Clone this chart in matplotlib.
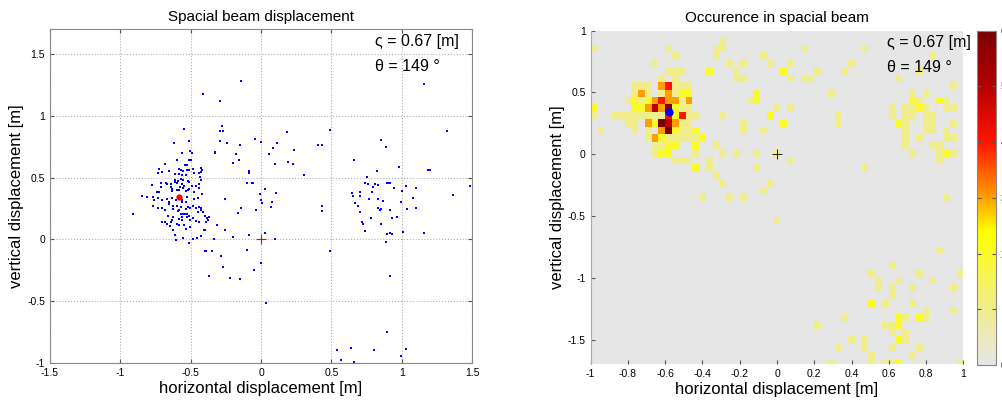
import numpy as np
import matplotlib
matplotlib.use("Agg")
import matplotlib.pyplot as plt
from matplotlib.colors import LinearSegmentedColormap

plt.rcParams['font.family'] = ['Liberation Sans', 'DejaVu Sans']

# beam hit positions [m] (left panel)
px = [-0.14, -0.41, -0.29, 1.16, 1.32,
      -0.28, -0.29, -0.27, -0.55, -0.29, -0.24, -0.51, -0.62,
      -0.33, -0.33, -0.18, -0.15, -0.16, -0.20,
      -0.04, 0.0, 0.056, 0.082, 0.115, 0.186, 0.096, 0.193, 0.229, 0.231, 0.406, 0.437, 0.489, 0.304,
      -0.084, -0.084, -0.103, -0.067, -0.06, 0.025, -0.008, -0.003, 0.009, 0.11, 0.077, 0.07, -0.037,
      -0.14, -0.162, -0.257, -0.254, -0.314, -0.202, -0.333, 0.025, 0.098, -0.082,
      -0.399, -0.39, -0.347, -0.285, -0.269, -0.221, -0.15, -0.373, -0.1, -0.053, 0.001, 0.032, 0.489,
      0.43, 0.43,
      0.664, 0.754, 0.738, 0.761, 0.809, 0.828, 0.797, 0.648, 0.655, 0.707, 0.702, 0.79, 0.768, 0.669,
      0.688, 0.705, 0.719, 0.724, 0.742, 0.78, 0.828, 0.835, 0.851, 0.844, 0.87, 0.854, 0.856, 0.885,
      0.823, 0.892, 0.909, 0.918, 0.979, 0.944, 0.92, 0.93, 0.967, 0.897, 0.92, 0.93, 0.887, 0.998,
      1.005, 1.03, 1.039, 1.01, 1.081, 1.1, 1.105, 1.19, 1.2, 1.157, 1.368, 1.484, 0.915, 0.892,
      0.541, 0.572, 0.643, 0.664, 0.802, 0.993, 1.029,
      -0.913, -0.849, -0.811,
      -0.505, -0.494, -0.565, -0.51, -0.498, -0.683, -0.595, -0.541, -0.524, -0.586, -0.57, -0.555,
      -0.529, -0.51, -0.484, -0.479, -0.534, -0.728, -0.702, -0.733, -0.655, -0.614, -0.441, -0.434,
      -0.43, -0.584, -0.565, -0.612, -0.614, -0.588, -0.598, -0.57, -0.553, -0.522, -0.51, -0.674,
      -0.64, -0.711, -0.778, -0.742, -0.723, -0.709, -0.666, -0.638, -0.631, -0.633, -0.598, -0.584,
      -0.577, -0.558, -0.546, -0.536, -0.522, -0.51, -0.489, -0.479, -0.461, -0.565, -0.771, -0.731,
      -0.702, -0.764, -0.766, -0.731, -0.666, -0.655, -0.636, -0.605, -0.626, -0.565, -0.56, -0.534,
      -0.524, -0.475, -0.451, -0.487, -0.461, -0.707, -0.681, -0.652, -0.624, -0.6, -0.584, -0.593,
      -0.57, -0.553, -0.541, -0.524, -0.534, -0.519, -0.567, -0.503, -0.441, -0.43, -0.411, -0.399,
      -0.387, -0.375, -0.629, -0.631, -0.643, -0.662, -0.529, -0.515, -0.482, -0.562, -0.56, -0.586,
      -0.451, -0.506, -0.595, -0.584, -0.648, -0.548, -0.506, -0.536,
      -0.702, -0.685, -0.671, -0.624, -0.612, -0.558, -0.603, -0.513, -0.486, -0.458, -0.425, -0.408,
      -0.399, -0.394, -0.382, -0.37, -0.425, -0.46, -0.442, -0.43, -0.42, -0.43, -0.423, -0.44, -0.44]
py = [1.28, 1.18, 1.12, 1.26, 0.88,
      0.92, 0.88, 0.88, 0.89, 0.80, 0.78, 0.80, 0.78,
      0.70, 0.71, 0.69, 0.76, 0.645, 0.62,
      0.81, 0.785, 0.694, 0.737, 0.777, 0.866, 0.613, 0.626, 0.613, 0.726, 0.761, 0.764, 0.882, 0.518,
      0.55, 0.535, 0.459, 0.456, 0.454, 0.41, 0.37, 0.316, 0.295, 0.373, 0.305, 0.26, 0.241,
      0.257, 0.214, 0.33, 0.073, 0.117, 0.016, 0.0, 0.051, 0.003, 0.035,
      -0.091, -0.091, -0.091, -0.132, -0.226, -0.312, -0.323, -0.293, -0.083, -0.245, -0.191, -0.517, -0.097,
      0.268, 0.23,
      0.64, 0.505, 0.459, 0.451, 0.451, 0.44, 0.424, 0.375, 0.348, 0.383, 0.348, 0.383, 0.324, 0.292,
      0.273, 0.219, 0.138, 0.127, 0.068, 0.173, 0.327, 0.254, 0.249, 0.238, 0.308, 0.122, 0.802, 0.748,
      0.551, 0.456, 0.459, 0.456, 0.586, 0.419, 0.24, 0.176, 0.181, 0.04, 0.051, 0.04, -0.024, 0.303,
      0.392, 0.429, 0.245, 0.06, 0.337, 0.419, 0.257, 0.559, 0.559, 0.049, 0.359, 0.429, -0.299, -0.749,
      -0.892, -0.973, -0.876, -0.995, -0.897, -0.946, -0.884,
      0.208, 0.348, 0.343,
      0.715, 0.698, 0.698, 0.645, 0.642, 0.612, 0.639, 0.604, 0.599, 0.566, 0.564, 0.55,
      0.564, 0.564, 0.566, 0.537, 0.523, 0.566, 0.545, 0.537, 0.553, 0.531, 0.54, 0.504,
      0.477, 0.526, 0.518, 0.477, 0.466, 0.472, 0.456, 0.491, 0.477, 0.469, 0.466, 0.456,
      0.448, 0.456, 0.44, 0.386, 0.386, 0.424, 0.445, 0.424, 0.407, 0.391, 0.396, 0.402,
      0.424, 0.418, 0.434, 0.391, 0.396, 0.407, 0.429, 0.38, 0.434, 0.445, 0.343, 0.337,
      0.321, 0.316, 0.272, 0.251, 0.326, 0.302, 0.337, 0.321, 0.272, 0.321, 0.305, 0.305,
      0.343, 0.326, 0.332, 0.272, 0.256, 0.251, 0.24, 0.283, 0.245, 0.267, 0.235, 0.229,
      0.208, 0.208, 0.208, 0.208, 0.245, 0.261, 0.261, 0.251, 0.261, 0.24, 0.218, 0.186,
      0.175, 0.154, 0.181, 0.154, 0.138, 0.191, 0.181, 0.186, 0.175, 0.181, 0.154, 0.167,
      0.221, 0.154, 0.127, 0.113, 0.111, 0.113, 0.1, 0.086,
      0.143, 0.143, 0.124, 0.073, 0.038, 0.011, -0.003, -0.032, 0.0, 0.008, 0.027, 0.078,
      0.076, 0.14, 0.175, 0.178, 0.257, 0.146, 0.138, 0.575, 0.559, 0.545, 0.37, 0.418, 0.45]

# mean beam position
mean_x, mean_y = -0.58, 0.34

# occurrence histogram: cell centres [m] and counts (right panel)
hx = [-0.291,
      -0.982, -0.582, -0.327, -0.291, 0.145, 0.473,
      -0.545, -0.327, -0.073, 0.836,
      -0.655, -0.255, -0.182, -0.036, 0.073, 0.400,
      -0.582, -0.545, -0.509, -0.364, -0.218, 0.036, 0.218, 0.364, 0.764,
      -0.618, -0.545, -0.218, -0.182, 0.073, 0.145, 0.182, 0.655,
      -0.764, -0.727, -0.691, -0.618, -0.582, -0.545, -0.509, -0.473, 0.945,
      -0.764, -0.727, -0.691, -0.618, -0.582, -0.545, -0.509, -0.473, -0.109, 0.291, 0.727, 0.800,
      -0.800, -0.764, -0.727, -0.691, -0.655, -0.618, -0.582, -0.545, -0.509, -0.473, -0.145, -0.109,
      0.727, 0.764, 0.873, 0.909,
      -0.982, -0.764, -0.727, -0.691, -0.655, -0.618, -0.582, -0.545, -0.509, -0.473, 0.000, 0.073,
      0.618, 0.691, 0.727, 0.764, 0.800, 0.909, 0.945,
      -0.982, -0.873, -0.836, -0.800, -0.764, -0.727, -0.691, -0.655, -0.618, -0.582, -0.545, -0.509,
      -0.473, -0.436, -0.291, -0.036, 0.327, 0.618, 0.691, 0.727, 0.800, 0.836,
      -0.800, -0.764, -0.691, -0.655, -0.618, -0.582, -0.545, -0.509, -0.473, -0.182, 0.036, 0.327,
      0.655, 0.691, 0.800, 0.836, 0.945,
      -0.945, -0.764, -0.691, -0.618, -0.582, -0.545, -0.509, -0.473, -0.436, -0.182, -0.073, 0.691,
      0.800, 0.836, 0.909,
      -0.691, -0.655, -0.618, -0.582, -0.545, -0.509, -0.473, -0.436, -0.400, 0.691, 0.764, 0.909, 0.945,
      -0.655, -0.618, -0.582, -0.545, -0.436, -0.327, 0.691, 0.836, 0.873,
      -0.655, -0.618, -0.582, -0.436, -0.291, -0.218, -0.109, 0.000, 0.727, 0.873, 0.909, 0.945,
      -0.545, -0.509, -0.473, -0.364, 0.073, 0.873,
      -0.436, -0.364, -0.109, 0.473,
      -0.327,
      -0.291, -0.036,
      -0.073,
      -0.400, -0.255, -0.182, 0.909,
      0.000,
      0.873,
      0.618,
      0.509, 0.764, 0.982,
      0.545, 0.655, 0.836,
      0.545, 0.618, 0.727, 0.945,
      0.618,
      0.509, 0.582, 0.727,
      0.800, 0.945,
      0.364, 0.655, 0.691, 0.764, 0.800,
      0.218, 0.582, 0.618, 0.655,
      0.618, 0.691,
      0.400, 0.473, 0.655, 0.691,
      0.327, 0.473, 0.618, 0.764,
      0.509, 0.727,
      0.291, 0.509, 0.582, 0.618, 0.655, 0.982]
hy = [0.917,
      0.857, 0.857, 0.857, 0.857, 0.857, 0.857,
      0.796, 0.796, 0.796, 0.796,
      0.735, 0.735, 0.735, 0.735, 0.735, 0.735,
      0.675, 0.675, 0.675, 0.675, 0.675, 0.675, 0.675, 0.675, 0.675,
      0.614, 0.614, 0.614, 0.614, 0.614, 0.614, 0.614, 0.614,
      0.554, 0.554, 0.554, 0.554, 0.554, 0.554, 0.554, 0.554, 0.554,
      0.493, 0.493, 0.493, 0.493, 0.493, 0.493, 0.493, 0.493, 0.493, 0.493, 0.493, 0.493,
      0.433, 0.433, 0.433, 0.433, 0.433, 0.433, 0.433, 0.433, 0.433, 0.433, 0.433, 0.433,
      0.433, 0.433, 0.433, 0.433,
      0.372, 0.372, 0.372, 0.372, 0.372, 0.372, 0.372, 0.372, 0.372, 0.372, 0.372, 0.372,
      0.372, 0.372, 0.372, 0.372, 0.372, 0.372, 0.372,
      0.312, 0.312, 0.312, 0.312, 0.312, 0.312, 0.312, 0.312, 0.312, 0.312, 0.312, 0.312,
      0.312, 0.312, 0.312, 0.312, 0.312, 0.312, 0.312, 0.312, 0.312, 0.312,
      0.251, 0.251, 0.251, 0.251, 0.251, 0.251, 0.251, 0.251, 0.251, 0.251, 0.251, 0.251,
      0.251, 0.251, 0.251, 0.251, 0.251,
      0.190, 0.190, 0.190, 0.190, 0.190, 0.190, 0.190, 0.190, 0.190, 0.190, 0.190, 0.190,
      0.190, 0.190, 0.190,
      0.130, 0.130, 0.130, 0.130, 0.130, 0.130, 0.130, 0.130, 0.130, 0.130, 0.130, 0.130, 0.130,
      0.069, 0.069, 0.069, 0.069, 0.069, 0.069, 0.069, 0.069, 0.069,
      0.009, 0.009, 0.009, 0.009, 0.009, 0.009, 0.009, 0.009, 0.009, 0.009, 0.009, 0.009,
      -0.052, -0.052, -0.052, -0.052, -0.052, -0.052,
      -0.113, -0.113, -0.113, -0.113,
      -0.173,
      -0.234, -0.234,
      -0.294,
      -0.355, -0.355, -0.355, -0.355,
      -0.537,
      -0.779,
      -0.900,
      -0.961, -0.961, -0.961,
      -1.021, -1.021, -1.021,
      -1.082, -1.082, -1.082, -1.082,
      -1.142,
      -1.203, -1.203, -1.203,
      -1.264, -1.264,
      -1.324, -1.324, -1.324, -1.324, -1.324,
      -1.385, -1.385, -1.385, -1.385,
      -1.445, -1.445,
      -1.506, -1.506, -1.506, -1.506,
      -1.566, -1.566, -1.566, -1.566,
      -1.627, -1.627,
      -1.688, -1.688, -1.688, -1.688, -1.688, -1.688]
hn = [1,
      1, 1, 1, 1, 1, 1,
      1, 1, 1, 1,
      1, 1, 1, 1, 1, 1,
      1, 1, 1, 2, 1, 2, 1, 1, 1,
      1, 1, 1, 1, 1, 1, 1, 1,
      1, 1, 1, 3, 4, 1, 1, 1, 1,
      1, 3, 1, 1, 3, 1, 2, 2, 2, 1, 1, 1,
      1, 2, 1, 2, 3, 4, 3, 3, 1, 3, 1, 2,
      2, 1, 2, 1,
      2, 2, 2, 3, 5, 3, 6, 2, 1, 1, 1, 1,
      1, 1, 1, 2, 1, 1, 1,
      1, 1, 1, 1, 1, 1, 1, 1, 1, 4, 2, 4,
      1, 1, 1, 2, 1, 1, 1, 1, 1, 1,
      1, 1, 3, 2, 6, 5, 3, 1, 1, 1, 2, 1,
      2, 1, 1, 1, 1,
      1, 1, 1, 3, 6, 2, 1, 1, 2, 1, 1, 1,
      1, 1, 1,
      1, 3, 2, 1, 1, 1, 1, 1, 2, 1, 1, 1, 1,
      1, 1, 2, 2, 2, 1, 1, 1, 1,
      1, 2, 2, 1, 1, 1, 1, 1, 1, 1, 2, 1,
      1, 1, 1, 1, 1, 1,
      2, 1, 1, 1,
      1,
      1, 1,
      1,
      1, 1, 1, 1,
      1,
      1,
      1,
      1, 1, 1,
      1, 1, 1,
      1, 1, 1, 1,
      1,
      2, 1, 1,
      1, 1,
      1, 2, 1, 2, 1,
      1, 1, 1, 2,
      1, 1,
      1, 1, 2, 1,
      1, 1, 1, 1,
      1, 1,
      1, 1, 1, 1, 2, 1]

x_edges = np.linspace(-1, 1, 56)
y_edges = np.linspace(-1.717, 1.008, 46)

sigma_txt = "\u03c2 = 0.67 [m]"
theta_txt = "\u03b8 = 149 \u00b0"

fig = plt.figure(figsize=(10.02, 4.03), dpi=100)

# ---- left: scatter of displacement
ax1 = fig.add_axes([0.0499, 0.0993, 0.4212, 0.828])
ax1.plot(px, py, 's', color='blue', ms=2.0, mew=0)
ax1.plot([mean_x], [mean_y], 'o', color='red', ms=4.5, mew=0)
ax1.plot([0], [0], '+', color='red', ms=7, mew=0.8)
ax1.set_xlim(-1.5, 1.5)
ax1.set_ylim(-1, 1.7)
ax1.set_xticks([-1.5, -1, -0.5, 0, 0.5, 1, 1.5])
ax1.set_xticklabels(['-1.5', '-1', '-0.5', '0', '0.5', '1', '1.5'])
ax1.set_yticks([-1, -0.5, 0, 0.5, 1, 1.5])
ax1.set_yticklabels(['-1', '-0.5', '0', '0.5', '1', '1.5'])
ax1.grid(True, linestyle=':', color='#b0b0b0', linewidth=0.8)
ax1.tick_params(direction='in', length=3, labelsize=7.5, top=True, right=True,
                colors='#555555', labelcolor='black')
for s in ax1.spines.values():
    s.set_color('#888888')
    s.set_linewidth(0.8)
ax1.set_title("Spacial beam displacement", fontsize=11, pad=6)
ax1.set_xlabel("horizontal displacement [m]", fontsize=12, labelpad=2)
ax1.set_ylabel("vertical displacement [m]", fontsize=12, labelpad=2)
ax1.text(0.77, 0.962, sigma_txt, transform=ax1.transAxes, fontsize=11.5, va='center')
ax1.text(0.77, 0.889, theta_txt, transform=ax1.transAxes, fontsize=11.5, va='center')

# ---- right: occurrence map
H, _, _ = np.histogram2d(hx, hy, bins=[x_edges, y_edges], weights=hn)

cmap = LinearSegmentedColormap.from_list('occ', [
    (0.0, '#e6e6e6'),
    (1 / 6, '#f0ed8c'),
    (2 / 6, '#fafa2a'),
    (2.4 / 6, '#ffff00'),
    (3 / 6, '#ffa000'),
    (4 / 6, '#ff1400'),
    (5 / 6, '#b80000'),
    (1.0, '#780000')])

ax2 = fig.add_axes([0.5895, 0.096, 0.3719, 0.828])
mesh = ax2.pcolormesh(x_edges, y_edges, H.T, cmap=cmap, vmin=0, vmax=6)
ax2.plot([mean_x], [mean_y], 'o', color='blue', ms=6, mew=0)
ax2.plot([0], [0], '+', color='black', ms=7, mew=0.6)
ax2.set_xlim(-1, 1)
ax2.set_ylim(-1.7, 1)
ax2.set_xticks([-1, -0.8, -0.6, -0.4, -0.2, 0, 0.2, 0.4, 0.6, 0.8, 1])
ax2.set_xticklabels(['-1', '-0.8', '-0.6', '-0.4', '-0.2', '0', '0.2', '0.4', '0.6', '0.8', '1'])
ax2.set_yticks([-1.5, -1, -0.5, 0, 0.5, 1])
ax2.set_yticklabels(['-1.5', '-1', '-0.5', '0', '0.5', '1'])
ax2.tick_params(direction='in', length=3, labelsize=7.5, colors='#555555', labelcolor='black')
for name, s in ax2.spines.items():
    s.set_color('#aaaaaa')
    s.set_linewidth(0.8)
    if name in ('top', 'right', 'bottom'):
        s.set_visible(False)
ax2.set_title("Occurence in spacial beam", fontsize=11, pad=6)
ax2.set_xlabel("horizontal displacement [m]", fontsize=12, labelpad=2)
ax2.set_ylabel("vertical displacement [m]", fontsize=12, labelpad=2)
ax2.text(0.794, 0.963, sigma_txt, transform=ax2.transAxes, fontsize=11.5, va='center', clip_on=False)
ax2.text(0.794, 0.889, theta_txt, transform=ax2.transAxes, fontsize=11.5, va='center')

cax = fig.add_axes([0.9754, 0.0943, 0.0186, 0.8295])
cb = fig.colorbar(mesh, cax=cax, ticks=[0, 1, 2, 3, 4, 5, 6])
cb.outline.set_edgecolor('#888888')
cb.outline.set_linewidth(0.8)
# tick labels sit past the right edge of the figure, as in the original
cax.tick_params(direction='in', length=3, labelsize=7.5, left=True, colors='#555555', labelcolor='black')

fig.savefig("out.png", dpi=100)
